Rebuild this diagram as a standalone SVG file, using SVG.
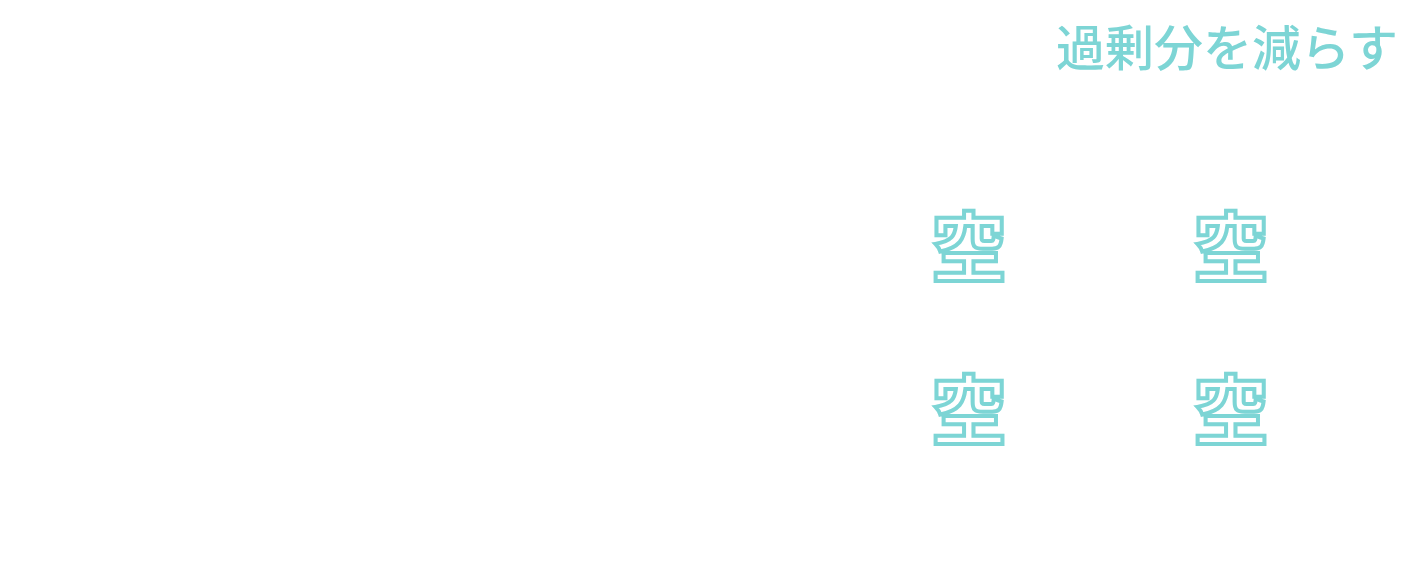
<svg xmlns="http://www.w3.org/2000/svg" width="1427" height="585" viewBox="0 0 1427 585">
<style>
.t{font-family:"Noto Sans CJK JP",sans-serif;font-weight:500;fill:#7dd5d5}
.k{font-family:"Noto Sans CJK JP",sans-serif;font-weight:700;font-size:76px;fill:#fff;stroke:#7dd5d5;stroke-width:4;text-anchor:middle}
</style>
<rect width="1427" height="585" fill="#fff"/>
<g id="title"><text class="t" x="1056" y="66" font-size="49">過剰分を減らす</text></g>
<g id="n1"><text class="k" x="969" y="276">空</text></g>
<g id="n2"><text class="k" x="1231" y="276">空</text></g>
<g id="n3"><text class="k" x="969" y="439">空</text></g>
<g id="n4"><text class="k" x="1231" y="439">空</text></g>
<g id="connectors"/>
</svg>
